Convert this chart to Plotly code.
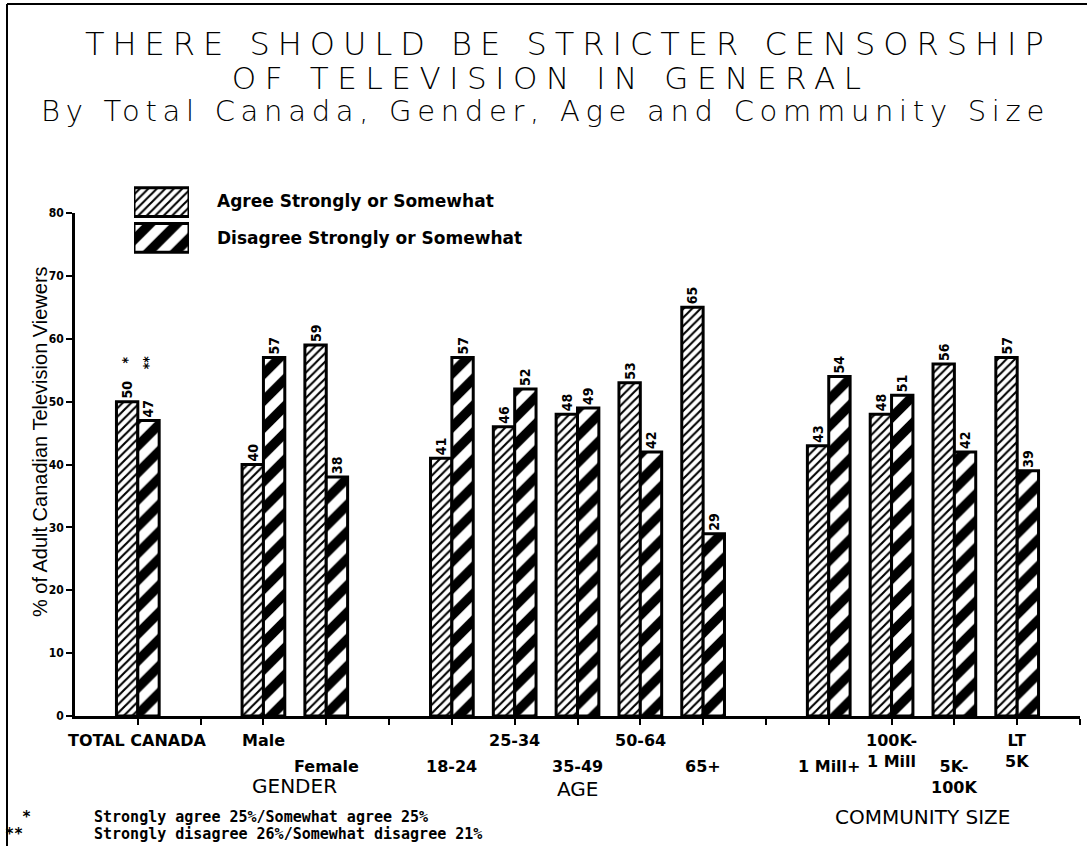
import json
import plotly.graph_objects as go

# Data
categories = ["TOTAL CANADA", "Male", "Female", "18-24", "25-34", "35-49", "50-64", "65+",
              "1 Mill+", "100K-<br>1 Mill", "5K-<br>100K", "LT<br>5K"]
groups = ["TOTAL", "GENDER", "GENDER", "AGE", "AGE", "AGE", "AGE", "AGE",
          "COMMUNITY SIZE", "COMMUNITY SIZE", "COMMUNITY SIZE", "COMMUNITY SIZE"]
label_rows = [0, 0, 1, 1, 0, 1, 0, 1, 1, 0, 1, 0]
agree = [50, 40, 59, 41, 46, 48, 53, 65, 43, 48, 56, 57]
disagree = [47, 57, 38, 57, 52, 49, 42, 29, 54, 51, 42, 39]
agree_marks = ["*", "", "", "", "", "", "", "", "", "", "", ""]
disagree_marks = ["**", "", "", "", "", "", "", "", "", "", "", ""]
series_names = ["Agree Strongly or Somewhat", "Disagree Strongly or Somewhat"]
title_lines = ["THERE SHOULD BE STRICTER CENSORSHIP", "OF TELEVISION IN GENERAL",
               "By Total Canada, Gender, Age and Community Size"]
y_title = "% of Adult Canadian Television Viewers"
footnote_marks = ["*", "**"]
footnotes = ["Strongly agree 25%/Somewhat agree 25%",
             "Strongly disagree 26%/Somewhat disagree 21%"]

# slot positions: one empty slot between groups
pos, seps = [], []
p = 0
for i, g in enumerate(groups):
    if i > 0:
        p += 1
        if g != groups[i - 1]:
            seps.append(p)
            p += 1
    pos.append(p)
x_end = p + 1

# layout in pixels
W, H = 1087, 846
L, R, T, B = 75, 7, 150, 130
pw, ph = W - L - R, H - T - B
PLOT_TOP = 213


def px(x):
    return (x - L) / pw


def py(y):
    return (H - B - y) / ph


black = "black"
font_main = "DejaVu Sans"
patterns = [dict(shape="/", size=6, solidity=0.35, fgcolor=black, bgcolor="white", fgopacity=1),
            dict(shape="/", size=19, solidity=0.5, fgcolor=black, bgcolor="white", fgopacity=1)]

agree_text = [f"{v}    {m}" if m else str(v) for v, m in zip(agree, agree_marks)]
disagree_text = [f"{v}       {m}" if m else str(v) for v, m in zip(disagree, disagree_marks)]

fig = go.Figure()
for vals, txt, name, pat in zip([agree, disagree], [agree_text, disagree_text], series_names, patterns):
    fig.add_trace(go.Bar(
        x=pos, y=vals, name=name,
        text=txt, textposition="outside", textangle=-90, constraintext="none",
        textfont=dict(family="DejaVu Sans Condensed", size=14, color=black, weight="bold"),
        marker=dict(color="white", line=dict(color=black, width=3), pattern=pat),
        cliponaxis=False, showlegend=False,
    ))

# legend keys drawn in a small separate axes
for i, (name, pat) in enumerate(zip(series_names, patterns)):
    fig.add_trace(go.Bar(
        x=[1], y=[-i], orientation="h", width=0.8, xaxis="x2", yaxis="y2",
        marker=dict(color="white", line=dict(color=black, width=3), pattern=pat),
        showlegend=False, hoverinfo="skip", name=name,
    ))

ann = []
# title lines (letter spacing added after render, see post_script)
title_x = [568, 550, 545]
title_y = [44, 78, 111]
title_size = [32, 31, 29]
title_spacing = [8.0, 8.6, 5.7]
for txt, tx, ty, ts in zip(title_lines, title_x, title_y, title_size):
    ann.append(dict(x=px(tx), y=py(ty), text=txt, font=dict(size=ts, family=font_main, weight=300)))

# legend labels
for i, name in enumerate(series_names):
    ann.append(dict(x=px(215), y=py(201 + 37 * i), text=name, xanchor="left",
                    font=dict(size=17, family=font_main, weight="bold")))

# y axis title
ann.append(dict(x=px(40), y=py(442), text=y_title, textangle=-90,
                font=dict(size=20, family="Liberation Sans")))

# category labels (staggered rows)
row_y = [738, 764]
for xp, lab, r in zip(pos, categories, label_rows):
    ann.append(dict(x=xp, xref="x", y=py(row_y[r] - 9), yanchor="top", text=lab,
                    font=dict(size=16, family=font_main, weight="bold")))

# group labels
group_y = {"GENDER": 786, "AGE": 789, "COMMUNITY SIZE": 817}
for g, gy in group_y.items():
    xs = [xp for xp, gg in zip(pos, groups) if gg == g]
    ann.append(dict(x=(min(xs) + max(xs)) / 2, xref="x", y=py(gy), text=g,
                    font=dict(size=20, family=font_main)))

# footnotes
for i, (mark, txt, mx) in enumerate(zip(footnote_marks, footnotes, [26, 14])):
    fy = py(817 + 17 * i)
    ann.append(dict(x=px(mx), y=fy, text=mark,
                    font=dict(size=15, family="DejaVu Sans Mono", weight="bold")))
    ann.append(dict(x=px(92), y=fy, text=txt, xanchor="left",
                    font=dict(size=15, family="DejaVu Sans Mono", weight="bold")))

for a in ann:
    a.setdefault("xref", "paper")
    a.setdefault("yref", "paper")
    a.setdefault("xanchor", "center")
    a.setdefault("yanchor", "middle")
    a.setdefault("showarrow", False)
    a["font"].setdefault("color", black)
fig.update_layout(annotations=ann)

# page frame
fig.add_shape(type="line", xref="paper", yref="paper", x0=px(7), x1=px(7), y0=py(4), y1=py(846),
              line=dict(color=black, width=2))
fig.add_shape(type="line", xref="paper", yref="paper", x0=px(7), x1=px(1087), y0=py(4), y1=py(4),
              line=dict(color=black, width=2))

fig.update_xaxes(range=[-1, x_end], tickvals=pos + seps + [x_end], showticklabels=False,
                 ticks="outside", ticklen=6, tickwidth=2, tickcolor=black,
                 showline=True, linecolor=black, linewidth=2.5, showgrid=False, zeroline=False)
fig.update_yaxes(range=[0, 80], dtick=10, ticks="outside", ticklen=6, tickwidth=2, tickcolor=black,
                 showline=True, linecolor=black, linewidth=2.5, showgrid=False, zeroline=False,
                 domain=[0, py(PLOT_TOP)],
                 tickfont=dict(size=12, family="DejaVu Sans Condensed", weight="bold", color=black))

fig.update_layout(
    width=W, height=H,
    margin=dict(l=L, r=R, t=T, b=B),
    plot_bgcolor="white", paper_bgcolor="white",
    barmode="group", bargap=0.32, bargroupgap=0,
    xaxis2=dict(domain=[px(134), px(189)], anchor="y2", range=[0, 1], visible=False, fixedrange=True),
    yaxis2=dict(domain=[py(254), py(186)], anchor="x2", range=[-1.45, 0.45], visible=False, fixedrange=True),
    showlegend=False,
    font=dict(family=font_main, color=black),
)

# the typewriter-style title is widely letter-spaced
spacing = json.dumps(dict(zip(title_lines, title_spacing)))
post = (
    "document.body.style.margin='0';"
    f"var sp={spacing};"
    "document.querySelectorAll('text.annotation-text').forEach(function(el){"
    "var s=sp[el.textContent]; if(s){el.style.letterSpacing=s+'px';}});"
)
fig.write_html("out.html", config={"displayModeBar": False}, post_script=post)
